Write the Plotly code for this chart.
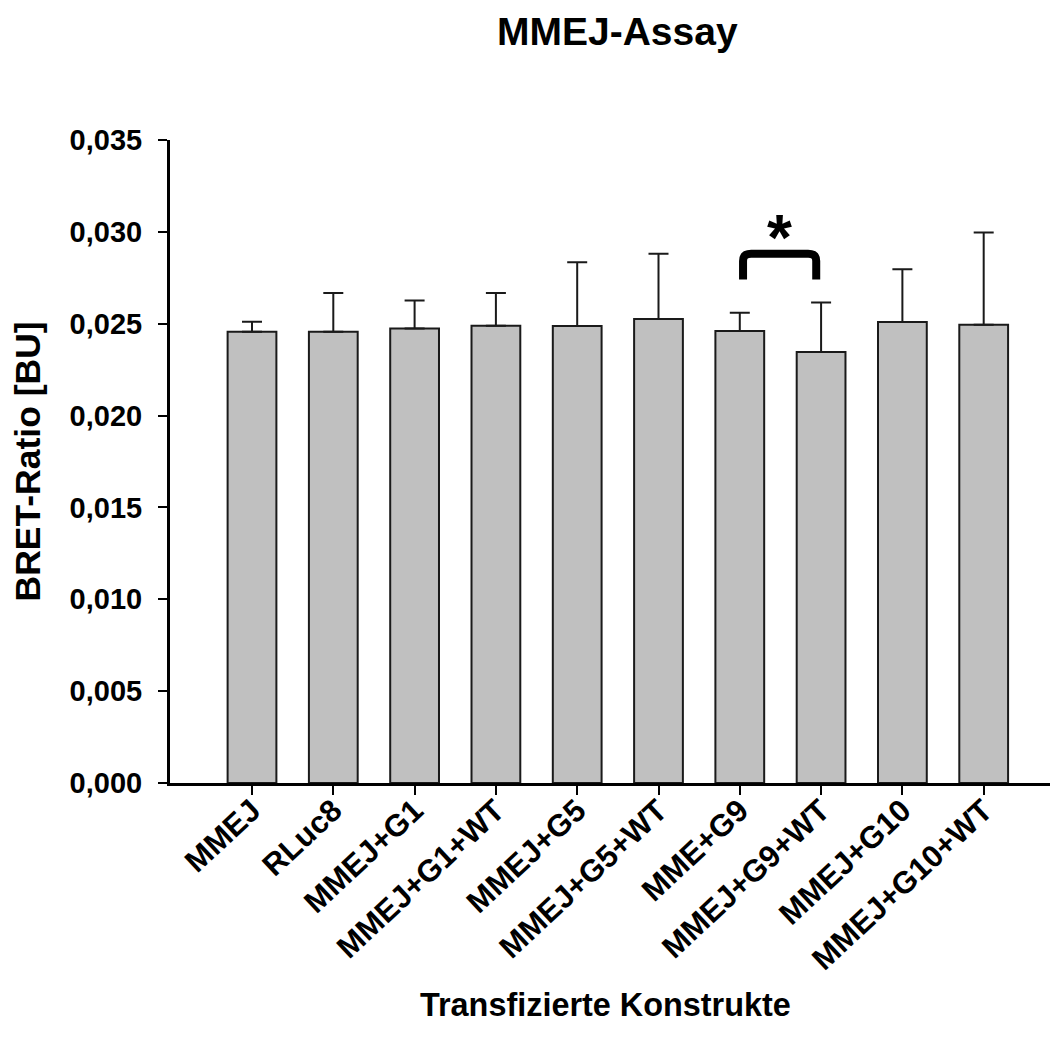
import plotly.graph_objects as go

categories = ["MMEJ", "RLuc8", "MMEJ+G1", "MMEJ+G1+WT", "MMEJ+G5", "MMEJ+G5+WT",
              "MME+G9", "MMEJ+G9+WT", "MMEJ+G10", "MMEJ+G10+WT"]
means = [0.02456, 0.02456, 0.02474, 0.02489, 0.02487, 0.02526, 0.02460, 0.02346, 0.02509, 0.02495]
errors = [0.00055, 0.00211, 0.00153, 0.00178, 0.00347, 0.00355, 0.00100, 0.00270, 0.00287, 0.00502]
y_ticks = [0.000, 0.005, 0.010, 0.015, 0.020, 0.025, 0.030, 0.035]

sig_pair = ("MME+G9", "MMEJ+G9+WT")
sig_top = 0.02881
sig_bottom = 0.02740

FONT = "Arial, Liberation Sans, sans-serif"

fig = go.Figure()
fig.add_trace(go.Bar(
    x=categories, y=means,
    marker=dict(color="#c0c0c0", line=dict(color="#1a1a1a", width=2)),
    error_y=dict(type="data", symmetric=False, array=errors,
                 arrayminus=[0] * len(errors),
                 color="#1a1a1a", thickness=2, width=10),
    width=0.6,
    showlegend=False,
))

i0 = categories.index(sig_pair[0]) + 0.04
i1 = categories.index(sig_pair[1]) - 0.06
rx, ry = 0.1, 0.0004
path = (f"M {i0},{sig_bottom} L {i0},{sig_top - ry} Q {i0},{sig_top} {i0 + rx},{sig_top} "
        f"L {i1 - rx},{sig_top} Q {i1},{sig_top} {i1},{sig_top - ry} L {i1},{sig_bottom}")
fig.add_shape(type="path", path=path, xref="x", yref="y",
              line=dict(color="black", width=8))
fig.add_annotation(x=(i0 + i1) / 2, y=sig_top, xref="x", yref="y", text="*",
                   showarrow=False, yanchor="bottom", yshift=-22,
                   font=dict(family=FONT, size=64, color="black", weight="bold"))

# titles
fig.add_annotation(x=0.5045, y=1.168, xref="paper", yref="paper", text="MMEJ-Assay",
                   showarrow=False, xanchor="center", yanchor="middle",
                   font=dict(family=FONT, size=39, color="black", weight="bold"))
fig.add_annotation(x=0.4899, y=-0.3453, xref="paper", yref="paper",
                   text="Transfizierte Konstrukte", showarrow=False,
                   xanchor="center", yanchor="middle",
                   font=dict(family=FONT, size=32.4, color="black", weight="bold"))
fig.add_annotation(x=-0.16, y=0.5, xref="paper", yref="paper",
                   text="BRET-Ratio [BU]", showarrow=False, textangle=-90,
                   xanchor="center", yanchor="middle",
                   font=dict(family=FONT, size=35.5, color="black", weight="bold"))

fig.update_layout(
    width=1050, height=1044,
    margin=dict(l=162, r=0, t=132, b=269),
    paper_bgcolor="white", plot_bgcolor="white",
    separators=",.",
    font=dict(family=FONT, color="black"),
    bargap=0.4,
)
fig.update_xaxes(
    range=[-1.0086, 9.914], showgrid=False, zeroline=False,
    showline=True, linecolor="black", linewidth=3,
    ticks="outside", ticklen=9, tickwidth=2, tickcolor="black",
    tickangle=-43, ticklabelstandoff=-15,
    tickfont=dict(family=FONT, size=31, color="black", weight="bold"),
)
fig.update_yaxes(
    range=[0, 0.035], tickvals=y_ticks, tickformat=".3f",
    showgrid=False, zeroline=False,
    showline=True, linecolor="black", linewidth=3,
    ticks="outside", ticklen=9, tickwidth=2, tickcolor="black",
    ticklabelstandoff=10,
    tickfont=dict(family=FONT, size=29, color="black", weight="bold"),
)

fig.write_html("out.html")
